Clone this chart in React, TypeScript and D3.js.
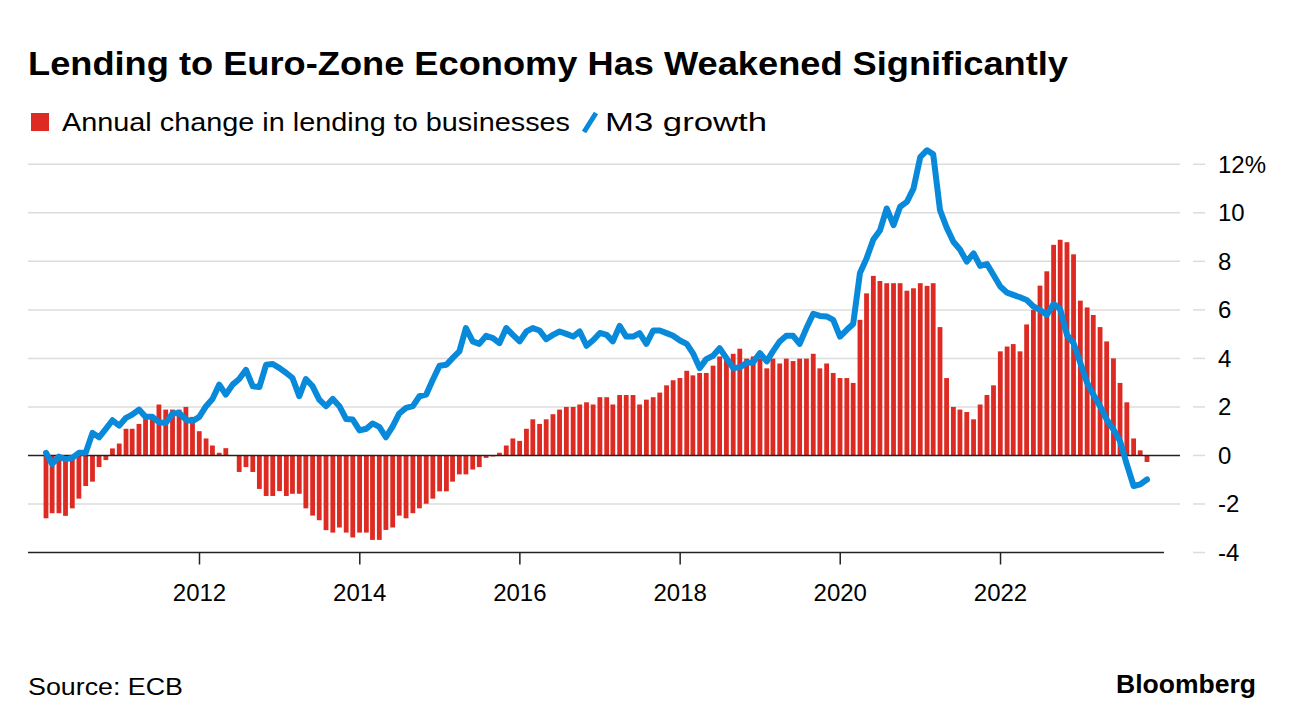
import React from "react";
import * as d3 from "d3";

const title = "Lending to Euro-Zone Economy Has Weakened Significantly";
const legendBars = "Annual change in lending to businesses";
const legendLine = "M3 growth";
const source = "Source: ECB";
const brand = "Bloomberg";

// Monthly, Jan 2010 .. Oct 2023
const startYear = 2010;
const lending: number[] = [
  -2.59, -2.38, -2.38, -2.49, -2.18, -1.78, -1.26, -1.08, -0.48, -0.19, 0.29, 0.49,
  1.1, 1.1, 1.3, 1.5, 1.6, 2.1, 1.89, 1.89, 1.89, 2.0, 1.59, 1.0,
  0.7, 0.41, 0.11, 0.3, -0.02, -0.68, -0.48, -0.68, -1.38, -1.67, -1.67, -1.47,
  -1.67, -1.58, -1.58, -2.18, -2.48, -2.67, -3.08, -3.18, -2.97, -3.18, -3.38, -3.18,
  -3.18, -3.48, -3.48, -3.07, -2.97, -2.48, -2.59, -2.38, -2.18, -1.99, -1.78, -1.48,
  -1.48, -1.08, -0.78, -0.78, -0.58, -0.48, -0.1, -0.04, 0.11, 0.41, 0.7, 0.6,
  1.1, 1.49, 1.3, 1.49, 1.7, 1.89, 2.0, 2.0, 2.1, 2.19, 2.1, 2.4,
  2.4, 2.1, 2.49, 2.49, 2.49, 2.1, 2.3, 2.4, 2.59, 2.89, 3.1, 3.19,
  3.49, 3.3, 3.4, 3.4, 3.7, 4.08, 4.0, 4.19, 4.4, 3.99, 4.08, 4.0,
  3.59, 3.99, 3.79, 3.99, 3.89, 3.99, 3.99, 4.19, 3.59, 3.79, 3.4, 3.19,
  3.19, 2.99, 5.59, 6.68, 7.4, 7.19, 7.1, 7.1, 7.1, 6.79, 6.89, 7.1,
  6.99, 7.1, 5.29, 3.19, 2.0, 1.89, 1.79, 1.49, 2.1, 2.49, 2.89, 4.29,
  4.49, 4.59, 4.29, 5.4, 6.0, 7.0, 7.59, 8.68, 8.89, 8.79, 8.29, 6.38,
  6.1, 5.79, 5.29, 4.7, 4.0, 2.99, 2.19, 0.7, 0.21, -0.27,
];
const m3: number[] = [
  0.11, -0.35, -0.05, -0.16, -0.1, 0.11, 0.11, 0.93, 0.75, 1.1, 1.45, 1.23,
  1.55, 1.68, 1.89, 1.59, 1.59, 1.37, 1.34, 1.73, 1.75, 1.48, 1.41, 1.59,
  2.03, 2.33, 2.92, 2.51, 2.92, 3.15, 3.53, 2.85, 2.82, 3.74, 3.77, 3.6,
  3.4, 3.19, 2.44, 3.15, 2.85, 2.3, 2.03, 2.33, 2.03, 1.5, 1.48, 1.03,
  1.1, 1.32, 1.18, 0.75, 1.2, 1.73, 1.96, 2.03, 2.44, 2.51, 3.12, 3.7,
  3.74, 4.01, 4.29, 5.25, 4.7, 4.6, 4.93, 4.84, 4.63, 5.25, 4.97, 4.7,
  5.11, 5.25, 5.15, 4.79, 4.97, 5.11, 5.01, 4.9, 5.11, 4.52, 4.75, 5.05,
  4.97, 4.7, 5.34, 4.9, 4.9, 5.04, 4.6, 5.15, 5.15, 5.04, 4.93, 4.74,
  4.6, 4.22, 3.6, 3.97, 4.11, 4.42, 4.01, 3.6, 3.63, 3.81, 3.84, 4.22,
  3.88, 4.29, 4.7, 4.93, 4.93, 4.6, 5.25, 5.84, 5.75, 5.73, 5.59, 4.9,
  5.18, 5.42, 7.52, 8.12, 8.9, 9.27, 10.18, 9.49, 10.25, 10.45, 11.0, 12.3,
  12.58, 12.41, 10.11, 9.4, 8.81, 8.49, 7.99, 8.33, 7.81, 7.89, 7.44, 6.96,
  6.71, 6.62, 6.52, 6.41, 6.14, 6.0, 5.79, 6.25, 6.03, 4.97, 4.63, 3.81,
  2.99, 2.51, 2.03, 1.48, 1.07, 0.59, -0.37, -1.26, -1.19, -0.99,
];
const yTicks = [-4, -2, 0, 2, 4, 6, 8, 10, 12];
const xTickYears = [2012, 2014, 2016, 2018, 2020, 2022];

const RED = "#dd2a22";
const BLUE = "#0889d9";
const FONT = "'Liberation Sans', Arial, sans-serif";

export default function App() {
  const dates = lending.map((_, i) => new Date(startYear, i + 1, 0)); // month-end
  const x = d3
    .scaleTime()
    .domain([dates[0], dates[dates.length - 1]])
    .range([46, 1147]);
  const y = d3.scaleLinear().domain([-4, 12]).range([552.5, 164.3]);
  const barW = 4.8;
  const line = d3
    .line<number>()
    .x((_, i) => x(dates[i]))
    .y((d) => y(d))
    .curve(d3.curveLinear);

  return (
    <svg
      width={1296}
      height={728}
      style={{ position: "absolute", left: 0, top: 0, background: "#fff" }}
      fontFamily={FONT}
    >
      <text x={28} y={75} fontSize={34} fontWeight="bold" fill="#000" textLength={1040} lengthAdjust="spacingAndGlyphs">
        {title}
      </text>
      <rect x={31} y={113} width={18} height={18} fill={RED} />
      <text x={62} y={131} fontSize={26} fill="#000" textLength={508} lengthAdjust="spacingAndGlyphs">
        {legendBars}
      </text>
      <line x1={584} y1={132} x2={596} y2={113} stroke={BLUE} strokeWidth={5} />
      <text x={605} y={131} fontSize={26} fill="#000" textLength={162} lengthAdjust="spacingAndGlyphs">
        {legendLine}
      </text>

      {yTicks.filter((t) => t !== 0 && t !== -4).map((t) => (
        <line key={"g" + t} x1={28} x2={1180} y1={y(t)} y2={y(t)} stroke="#dcdcdc" strokeWidth={1.5} />
      ))}
      {yTicks.map((t) => (
        <g key={"yt" + t}>
          <line x1={1193} x2={1205} y1={y(t)} y2={y(t)} stroke="#dcdcdc" strokeWidth={1.5} />
          <text x={1218} y={y(t) + 8.5} fontSize={24} fill="#000">
            {t === 12 ? "12%" : String(t)}
          </text>
        </g>
      ))}

      {lending.map((v, i) => (
        <rect
          key={"b" + i}
          x={x(dates[i]) - barW / 2}
          y={Math.min(y(v), y(0))}
          width={barW}
          height={Math.abs(y(v) - y(0))}
          fill={RED}
        />
      ))}

      <line x1={28} x2={1180} y1={y(0)} y2={y(0)} stroke="#222" strokeWidth={1.6} />
      <line x1={28} x2={1164} y1={y(-4)} y2={y(-4)} stroke="#222" strokeWidth={1.6} />
      {xTickYears.map((yr) => {
        const xx = x(new Date(yr, 0, 1));
        return (
          <g key={"xt" + yr}>
            <line x1={xx} x2={xx} y1={y(-4)} y2={y(-4) + 12} stroke="#222" strokeWidth={1.5} />
            <text x={xx} y={601} fontSize={24} textAnchor="middle" fill="#000">
              {yr}
            </text>
          </g>
        );
      })}

      <path
        d={line(m3) || ""}
        fill="none"
        stroke={BLUE}
        strokeWidth={6}
        strokeLinejoin="round"
        strokeLinecap="round"
      />

      <text x={28} y={695} fontSize={24} fill="#000" textLength={155} lengthAdjust="spacingAndGlyphs">
        {source}
      </text>
      <text x={1256} y={693} fontSize={26} fontWeight="bold" fill="#000" textAnchor="end" textLength={140} lengthAdjust="spacingAndGlyphs">
        {brand}
      </text>
    </svg>
  );
}
